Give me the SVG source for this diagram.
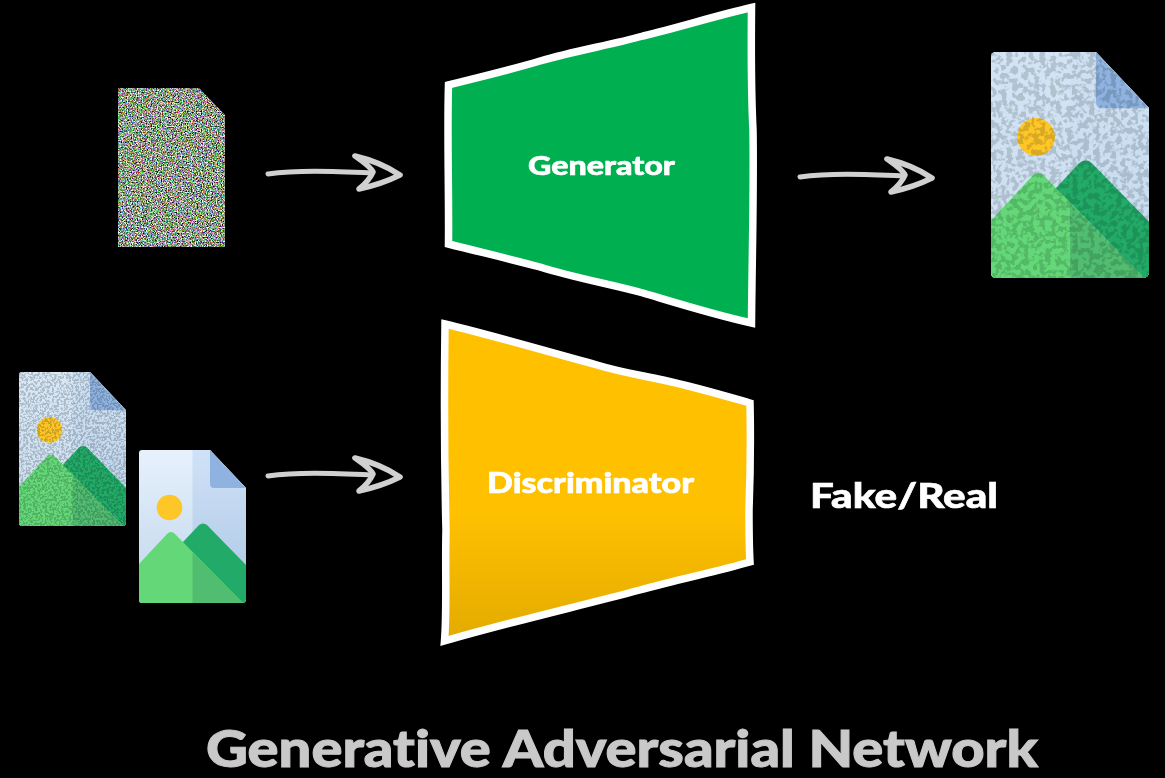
<svg xmlns="http://www.w3.org/2000/svg" width="1165" height="778" viewBox="0 0 1165 778">
<style>
.lbl{font-family:"Lato","Liberation Sans",sans-serif;font-weight:900;fill:#fff;stroke:#fff;stroke-width:.6;font-variant-ligatures:none}
.arrow{fill:none;stroke:#d0d0d0;stroke-linecap:round;stroke-linejoin:round}
.box{stroke:#fff;stroke-width:7.5;stroke-linejoin:miter;stroke-miterlimit:10}
.mottle{mix-blend-mode:multiply}
</style>
<defs>
<filter id="colorNoise" x="0" y="0" width="1" height="1" color-interpolation-filters="sRGB">
<feTurbulence type="fractalNoise" baseFrequency="0.8" numOctaves="2" seed="7"/>
<feColorMatrix type="matrix" values="2 0.75 0.75 0 -1.2  0.8 2.05 0.75 0 -1.2  0.75 0.75 2 0 -1.22  0 0 0 0 1"/>
<feGaussianBlur stdDeviation="0.55"/>
</filter>
<filter id="mottleBig" x="0" y="0" width="1" height="1" color-interpolation-filters="sRGB">
<feTurbulence type="fractalNoise" baseFrequency="0.27" numOctaves="2" seed="4"/>
<feColorMatrix type="matrix" values="0 0 0 0 0.84  0 0 0 0 0.86  0 0 0 0 0.85  9 0 0 0 -4.1"/>
<feGaussianBlur stdDeviation="0.35"/>
</filter>
<filter id="mottleSmall" x="0" y="0" width="1" height="1" color-interpolation-filters="sRGB">
<feTurbulence type="fractalNoise" baseFrequency="0.42" numOctaves="2" seed="9"/>
<feColorMatrix type="matrix" values="0 0 0 0 0.8  0 0 0 0 0.82  0 0 0 0 0.82  9 0 0 0 -4.1"/>
<feGaussianBlur stdDeviation="0.3"/>
</filter>
<linearGradient id="paperL" x1="0" y1="0" x2="0" y2="1"><stop offset="0" stop-color="#e6f1fc"/><stop offset="0.75" stop-color="#c9dcf0"/></linearGradient>
<linearGradient id="paperR" x1="0" y1="0" x2="0" y2="1"><stop offset="0" stop-color="#cfe2f7"/><stop offset="0.75" stop-color="#b5cde9"/></linearGradient>
<linearGradient id="amber" x1="0" y1="0" x2="0" y2="1"><stop offset="0.6" stop-color="#ffc000"/><stop offset="1" stop-color="#e3ab00"/></linearGradient>
<clipPath id="sheet"><path d="M3,0H71L107,38V149a4,4 0 0 1-4,4H3a3,3 0 0 1-3-3V3a3,3 0 0 1 3-3Z"/></clipPath>
<clipPath id="noiseSheet"><polygon points="118,88 199,88 225,115 225,247 118,247"/></clipPath>
<g id="paper">
<rect width="107" height="153" fill="url(#paperL)"/>
<rect x="53.5" width="53.5" height="153" fill="url(#paperR)"/>
</g>
<g id="scene">
<path d="M71,0L107,38H75a4,4 0 0 1-4-4Z" fill="#8fb2e0"/>
<circle cx="30.5" cy="57.5" r="12.8" fill="#ffc627"/>
<path d="M44,92L60,75a6,6 0 0 1 8,0L107,115V153H44Z" fill="#22ab68"/>
<path d="M0,114L28,84a5,5 0 0 1 8,0L104,153H0Z" fill="#64d878"/>
<path d="M53.5,102.5L104,153H53.5Z" fill="#50bd70"/>
</g>
<g id="sketchArrow" class="arrow">
<path stroke-width="5" d="M268,174C296,170 330,171 372,173"/>
<path stroke-width="5.6" d="M355,156C372,160 388,167 400,175C388,181 373,186 359,189C365,184 370,179 373,172C370,166 362,161 355,156Z"/>
</g>
</defs>
<rect id="background" width="1165" height="778" fill="#000"/>
<g id="connectors">
<use href="#sketchArrow"/>
<use href="#sketchArrow" x="532" y="3"/>
<use href="#sketchArrow" y="302"/>
</g>
<g id="noise-input">
<g clip-path="url(#noiseSheet)"><rect x="118" y="88" width="107" height="159" fill="#777" filter="url(#colorNoise)"/></g>
</g>
<g id="generated-image">
<g transform="translate(991,52) scale(1.477)">
<g clip-path="url(#sheet)">
<use href="#paper"/>
<rect width="107" height="153" fill="#d0e0f2" opacity="0.8"/>
<use href="#scene"/>
</g>
<rect class="mottle" width="107" height="153" filter="url(#mottleBig)" clip-path="url(#sheet)"/>
</g>
</g>
<g id="generated-sample">
<g transform="translate(19,372) scale(1,1.007)">
<g clip-path="url(#sheet)">
<use href="#paper"/>
<rect width="107" height="153" fill="#d0dfef" opacity="0.5"/>
<use href="#scene"/>
</g>
<rect class="mottle" width="107" height="153" filter="url(#mottleSmall)" clip-path="url(#sheet)"/>
</g>
</g>
<g id="real-sample">
<g transform="translate(139,450)" clip-path="url(#sheet)">
<use href="#paper"/>
<use href="#scene"/>
</g>
</g>
<g id="generator">
<path class="box" fill="#00b050" d="M448.5,85C480,77 510,70 540,61C575,51 610,45 643,36C680,27 715,16 751.5,7.5C751,60 751.5,100 753,130C754,190 752,260 751.5,323C715,315 680,304 643,293C610,284 575,278 540,267C510,259 480,252 448.5,244C449,190 447,130 448.5,85Z"/>
<text class="lbl" x="528" y="175" font-size="27" textLength="147" lengthAdjust="spacingAndGlyphs">Generator</text>
</g>
<g id="discriminator">
<path class="box" fill="url(#amber)" d="M445,324C495,336 545,351 597,365C620,372 640,375 663,380C695,387 722,395 750,403C751,450 750.5,470 749,510C749,530 749,545 750,562C715,572 680,579 640,590C580,606 510,622 444.5,641C447,610 445,570 446,530C445,490 444,400 445,324Z"/>
<text class="lbl" x="487" y="493" font-size="28" textLength="207" lengthAdjust="spacingAndGlyphs">Discriminator</text>
</g>
<g id="result-label">
<text class="lbl" x="810" y="508" font-size="34" textLength="188" lengthAdjust="spacingAndGlyphs">Fake/Real</text>
</g>
<g id="title">
<text class="lbl" x="206" y="767" font-size="51" textLength="832" lengthAdjust="spacingAndGlyphs" style="fill:#c9c9c9;stroke:#c9c9c9;stroke-width:1">Generative Adversarial Network</text>
</g>
</svg>
